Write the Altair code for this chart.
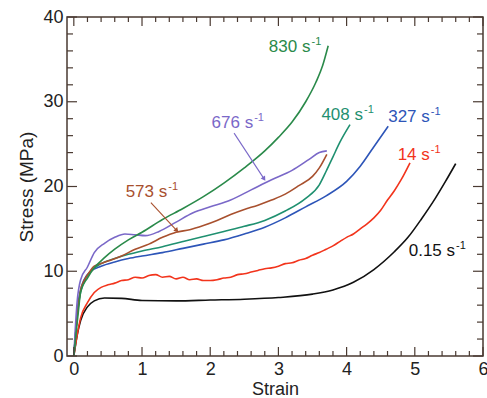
import altair as alt
import pandas as pd

# ---- data ----
rates = ["0.15", "14", "327", "408", "573", "676", "830"]

strain_015 = [0, 0.05, 0.1, 0.2, 0.3, 0.45, 0.7, 1.0, 1.5, 2.0, 2.5, 3.0, 3.5, 3.8, 4.1, 4.4, 4.7, 4.9, 5.1, 5.3, 5.45, 5.6]
stress_015 = [0, 2.5, 4.2, 5.8, 6.5, 6.85, 6.8, 6.55, 6.5, 6.6, 6.7, 6.9, 7.3, 7.8, 8.7, 10.2, 12.3, 14.0, 16.2, 18.6, 20.6, 22.7]

strain_14 = [0, 0.05, 0.1, 0.2, 0.3, 0.4, 0.5, 0.6, 0.7, 0.8, 0.9, 1.0, 1.1, 1.2, 1.3, 1.4, 1.5, 1.6, 1.7, 1.8, 1.9, 2.0, 2.1, 2.2, 2.3, 2.4, 2.5,
             2.6, 2.7, 2.8, 2.9, 3.0, 3.1, 3.2, 3.3, 3.4, 3.5, 3.6, 3.7, 3.8, 3.9, 4.0, 4.1, 4.2, 4.3, 4.4, 4.5, 4.6, 4.7, 4.8, 4.93]
stress_14 = [0, 2.5, 4.5, 6.3, 7.5, 8.1, 8.4, 8.6, 8.9, 9.0, 9.3, 9.2, 9.5, 9.6, 9.3, 9.4, 9.1, 9.3, 9.0, 9.1, 8.9, 8.9, 9.0, 9.2, 9.3, 9.6, 9.7,
             9.9, 10.1, 10.3, 10.4, 10.6, 10.9, 11.0, 11.3, 11.5, 11.9, 12.2, 12.6, 13.0, 13.5, 14.0, 14.4, 15.0, 15.6, 16.3, 17.2, 18.4, 19.5, 20.8, 22.8]

strain_327 = [0, 0.03, 0.06, 0.1, 0.15, 0.25, 0.4, 0.6, 0.8, 1.0, 1.3, 1.6, 1.9, 2.2, 2.5, 2.8, 3.1, 3.4, 3.7, 4.0, 4.2, 4.4, 4.61]
stress_327 = [0, 3.0, 6.0, 7.8, 9.0, 10.0, 10.6, 11.1, 11.5, 11.8, 12.2, 12.7, 13.2, 13.7, 14.4, 15.2, 16.3, 17.6, 18.9, 20.6, 22.4, 24.7, 27.1]

strain_408 = [0, 0.03, 0.06, 0.1, 0.15, 0.25, 0.4, 0.6, 0.8, 1.0, 1.3, 1.6, 1.9, 2.2, 2.5, 2.8, 3.1, 3.4, 3.6, 3.7, 3.8, 3.9, 4.05]
stress_408 = [0, 3.0, 5.5, 7.5, 8.7, 10.0, 10.9, 11.5, 12.0, 12.4, 12.9, 13.5, 14.1, 14.7, 15.3, 16.0, 17.1, 18.6, 20.2, 21.8, 23.5, 25.2, 27.3]

strain_573 = [0, 0.03, 0.06, 0.1, 0.15, 0.22, 0.3, 0.4, 0.5, 0.7, 0.9, 1.1, 1.3, 1.5, 1.7, 1.9, 2.1, 2.3, 2.5, 2.7, 2.9, 3.1, 3.3, 3.5, 3.6, 3.71]
stress_573 = [0, 3.0, 5.5, 7.8, 8.9, 9.8, 10.6, 10.9, 11.2, 11.8, 12.6, 13.2, 14.0, 14.6, 14.9, 15.4, 16.0, 16.7, 17.3, 17.8, 18.4, 19.1, 20.1, 21.2, 22.2, 23.8]

strain_676 = [0, 0.02, 0.05, 0.1, 0.2, 0.3, 0.45, 0.6, 0.75, 0.9, 1.05, 1.25, 1.5, 1.75, 2.0, 2.3, 2.6, 2.9, 3.2, 3.45, 3.6, 3.71]
stress_676 = [0, 3.0, 6.5, 9.0, 10.5, 12.2, 13.3, 14.0, 14.4, 14.3, 14.2, 14.7, 15.8, 16.9, 17.6, 18.4, 19.6, 20.8, 21.9, 23.2, 24.0, 24.2]

strain_830 = [0, 0.03, 0.07, 0.1, 0.2, 0.3, 0.45, 0.6, 0.8, 1.0, 1.3, 1.6, 1.9, 2.2, 2.5, 2.8, 3.0, 3.2, 3.4, 3.55, 3.65, 3.73]
stress_830 = [0, 2.5, 5.5, 7.6, 9.2, 10.4, 11.6, 12.6, 13.7, 14.6, 16.1, 17.4, 18.8, 20.4, 22.2, 24.2, 25.8, 27.6, 30.0, 32.3, 34.3, 36.6]

x_ticks = [0, 1, 2, 3, 4, 5, 6]
y_ticks = [0, 10, 20, 30, 40]
x_minor = [i / 5 for i in range(0, 31) if i % 5 != 0]
y_minor = [i for i in range(0, 41, 2) if i % 10 != 0]

# label anchors (end of "s") and arrows, in data units
label_text = ["0.15 s", "14 s", "327 s", "408 s", "573 s", "676 s", "830 s"]
label_x = [5.59, 5.22, 5.22, 4.24, 1.37, 2.63, 3.47]
label_y = [11.75, 23.1, 27.6, 27.9, 18.8, 26.9, 35.9]

arrow_x1 = [2.35, 1.13]
arrow_y1 = [26.3, 18.1]
arrow_x2 = [2.79, 1.51]
arrow_y2 = [20.9, 14.8]
arrow_angle = [147, 138]
arrow_series = ["676", "573"]

line_colors = ["#111111", "#f2341c", "#2d55b8", "#1f9070", "#a8502e", "#7a68c8", "#2a8a4a"]
label_colors = ["#1a1a1a", "#f06a4c", "#4452b2", "#2e8f70", "#b0603c", "#7468c0", "#3a9a60"]

series_x = [strain_015, strain_14, strain_327, strain_408, strain_573, strain_676, strain_830]
series_y = [stress_015, stress_14, stress_327, stress_408, stress_573, stress_676, stress_830]

rows = []
for r, xv, yv in zip(rates, series_x, series_y):
    for i, (a, b) in enumerate(zip(xv, yv)):
        rows.append({"rate": r, "x": a, "y": b, "i": i})
df = pd.DataFrame(rows)

labels = pd.DataFrame({"rate": rates, "text": label_text, "x": label_x, "y": label_y, "sup": ["-1"] * 7})
arrows = pd.DataFrame({"rate": arrow_series, "x": arrow_x1, "y": arrow_y1, "x2": arrow_x2, "y2": arrow_y2, "angle": arrow_angle})

W, H = 416, 339
FRAME = "#4a3a32"
FONT = "Liberation Sans"

xs = alt.Scale(domain=[-0.1, 6], nice=False, zero=False)
ys = alt.Scale(domain=[0, 40], nice=False, zero=False)
col = alt.Scale(domain=rates, range=line_colors)
lcol = alt.Scale(domain=rates, range=label_colors)

xaxis = alt.Axis(values=x_ticks, title="Strain", ticks=False, domain=False, grid=False,
                 labelFontSize=18, labelPadding=4, titleFontSize=18, titlePadding=2,
                 labelColor="#222", titleColor="#222", labelFont=FONT, titleFont=FONT,
                 titleFontWeight="normal", labelFlush=False)
yaxis = alt.Axis(values=y_ticks, title="Stress (MPa)", ticks=False, domain=False, grid=False,
                 labelFontSize=18, labelPadding=4, titleFontSize=19, titlePadding=6,
                 labelColor="#222", titleColor="#222", labelFont=FONT, titleFont=FONT,
                 titleFontWeight="normal", labelFlush=False)


def X(f):
    return alt.X(f, scale=xs, axis=xaxis, title="Strain")


def Y(f):
    return alt.Y(f, scale=ys, axis=yaxis, title="Stress (MPa)")


lines = alt.Chart(df).mark_line(strokeWidth=1.6, interpolate="monotone").encode(
    x=X("x:Q"), y=Y("y:Q"),
    color=alt.Color("rate:N", scale=col, legend=None),
    detail="rate:N",
    order="i:Q",
)


def tick_layer(vals, axis, length):
    d = pd.DataFrame({"x": vals, "y": vals})
    layers = []
    if axis == "x":
        for y0, y1 in [(H, H - length), (0, length)]:
            layers.append(alt.Chart(d).mark_rule(color=FRAME, strokeWidth=1.2).encode(
                x=X("x:Q"), y=alt.value(y0), y2=alt.value(y1)))
    else:
        for x0, x1 in [(0, length), (W, W - length)]:
            layers.append(alt.Chart(d).mark_rule(color=FRAME, strokeWidth=1.2).encode(
                y=Y("y:Q"), x=alt.value(x0), x2=alt.value(x1)))
    return layers


ticks = (tick_layer(x_ticks, "x", 9) + tick_layer(x_minor, "x", 5)
         + tick_layer(y_ticks, "y", 10) + tick_layer(y_minor, "y", 6))

base_text = alt.Chart(labels).mark_text(align="right", baseline="alphabetic", fontSize=17, font=FONT).encode(
    x=X("x:Q"), y=Y("y:Q"), text="text:N",
    color=alt.Color("rate:N", scale=lcol, legend=None))
sup_text = alt.Chart(labels).mark_text(align="left", baseline="alphabetic", fontSize=11, font=FONT, dx=1, dy=-7).encode(
    x=X("x:Q"), y=Y("y:Q"), text="sup:N",
    color=alt.Color("rate:N", scale=lcol, legend=None))

arrow_lines = alt.Chart(arrows).mark_rule(strokeWidth=1.1).encode(
    x=X("x:Q"), y=Y("y:Q"), x2="x2:Q", y2="y2:Q",
    color=alt.Color("rate:N", scale=lcol, legend=None))
arrow_heads = alt.Chart(arrows).mark_point(shape="triangle-up", filled=True, size=28, opacity=1).encode(
    x=X("x2:Q"), y=Y("y2:Q"),
    angle=alt.Angle("angle:Q", scale=None),
    color=alt.Color("rate:N", scale=lcol, legend=None))

chart = alt.layer(lines, *ticks, base_text, sup_text, arrow_lines, arrow_heads).properties(
    width=W, height=H,
    autosize=alt.AutoSizeParams(type="none"),
    padding={"left": 67, "top": 17, "right": 4, "bottom": 42},
    background="white",
).configure_view(stroke=FRAME, strokeWidth=1.5)

chart.save("out.html", embed_options={"renderer": "svg", "actions": False})
